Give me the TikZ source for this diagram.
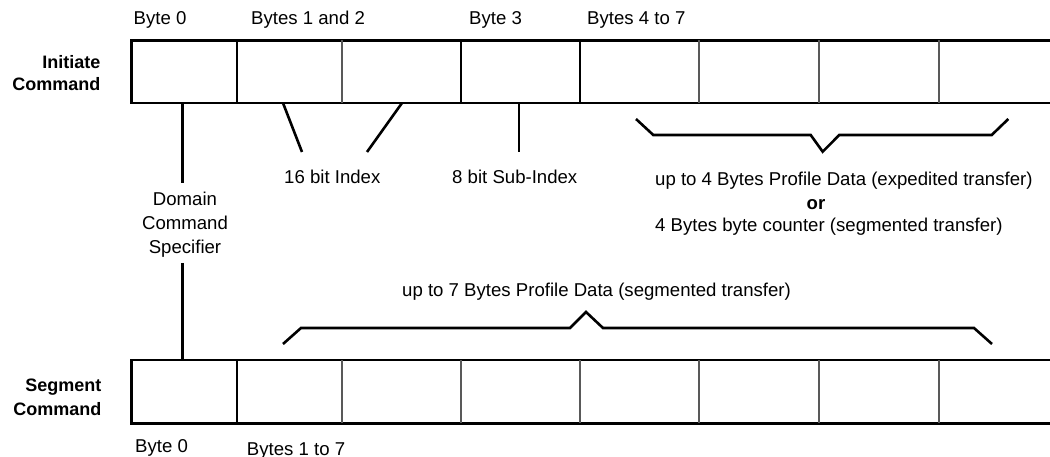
\documentclass[tikz,border=0pt]{standalone}
\usepackage{fontspec}
\setmainfont{Liberation Sans}
\begin{document}
\begin{tikzpicture}[x=1pt,y=-1pt,
    rule/.style={line width=2.6pt},
    thinrule/.style={line width=1.2pt,draw=black!65},
    conn/.style={line width=2.6pt},
    lbl/.style={font=\fontsize{18.6}{22}\selectfont,inner sep=0pt},
    blbl/.style={font=\fontsize{18}{22}\selectfont\bfseries,inner sep=0pt,anchor=base east}]
\useasboundingbox (0,0) rectangle (1050,457);

% ---------- Initiate command frame ----------
\coordinate (itl) at (131.3,40.3);
\coordinate (ibl) at (131.3,103);
\draw[rule] (1050,40.3) -- (itl) -- (ibl) -- (1050,103);
\foreach \x in {342,699,819,939}
  \draw[thinrule] (\x,40.3) -- (\x,103);
\foreach \x in {237,461,580}
  \draw[rule] (\x,40.3) -- (\x,103);

% ---------- Segment command frame ----------
\coordinate (stl) at (131.3,360);
\coordinate (sbl) at (131.3,423.3);
\draw[rule] (1050,360) -- (stl) -- (sbl) -- (1050,423.3);
\foreach \x in {342,461,580,699,819,939}
  \draw[thinrule] (\x,360) -- (\x,423.3);
\draw[rule] (237,360) -- (237,423.3);

% ---------- row labels ----------
\node[blbl] (ini1) at (100.5,69) {Initiate};
\node[blbl] (ini2) at (100.5,90.7) {Command};
\node[blbl] (seg1) at (101.5,391.7) {Segment};
\node[blbl] (seg2) at (101.5,415.7) {Command};

% ---------- byte headings ----------
\node[lbl,anchor=base west] (hb0) at (133.5,25) {Byte 0};
\node[lbl,anchor=base west] (hb12) at (251,25) {Bytes 1 and 2};
\node[lbl,anchor=base west] (hb3) at (469,25) {Byte 3};
\node[lbl,anchor=base west] (hb47) at (587,25) {Bytes 4 to 7};
\node[lbl,anchor=base west] (fb0) at (135,452) {Byte 0};
\node[lbl,anchor=base west] (fb17) at (246.7,455) {Bytes 1 to 7};

% ---------- field descriptions ----------
\node[lbl,anchor=base] (dcs1) at (185,206) {Domain};
\node[lbl,anchor=base] (dcs2) at (185,230) {Command};
\node[lbl,anchor=base] (dcs3) at (185,254) {Specifier};
\node[lbl,anchor=base west] (idx) at (284,184) {16 bit Index};
\node[lbl,anchor=base west] (sub) at (452,184) {8 bit Sub-Index};
\node[lbl,anchor=base west] (pd4) at (655,186) {up to 4 Bytes Profile Data (expedited transfer)};
\node[font=\fontsize{18.6}{22}\selectfont\bfseries,inner sep=0pt,anchor=base] (or) at (816,210) {or};
\node[lbl,anchor=base west] (cnt) at (655,231.7) {4 Bytes byte counter (segmented transfer)};
\node[lbl,anchor=base west] (pd7) at (402,296.7) {up to 7 Bytes Profile Data (segmented transfer)};

% ---------- connector end points ----------
\coordinate (cs-a) at (182.3,103);
\coordinate (cs-b) at (182.3,183);
\coordinate (cs-c) at (182.3,263);
\coordinate (cs-d) at (182.3,360);
\coordinate (ix-a) at (283,103);
\coordinate (ix-b) at (302,152);
\coordinate (ix-c) at (402,103);
\coordinate (ix-d) at (367,152);
\coordinate (sx-a) at (519,103);
\coordinate (sx-b) at (519,152);

% ---------- connectors ----------
\draw[conn] (cs-a) -- (cs-b);
\draw[conn] (cs-c) -- (cs-d);
\draw[conn] (ix-a) -- (ix-b);
\draw[conn] (ix-c) -- (ix-d);
\draw[conn] (sx-a) -- (sx-b);

% ---------- braces ----------
\draw[conn] (636,119) -- (653.3,135) -- (810.7,135) -- (822.7,151.7)
  -- (839.3,135) -- (991.7,135) -- (1008.3,119);
\draw[conn] (283,344) -- (301,328) -- (570,328) -- (586,312)
  -- (603,328) -- (974,328) -- (992,344);
\end{tikzpicture}
\end{document}
